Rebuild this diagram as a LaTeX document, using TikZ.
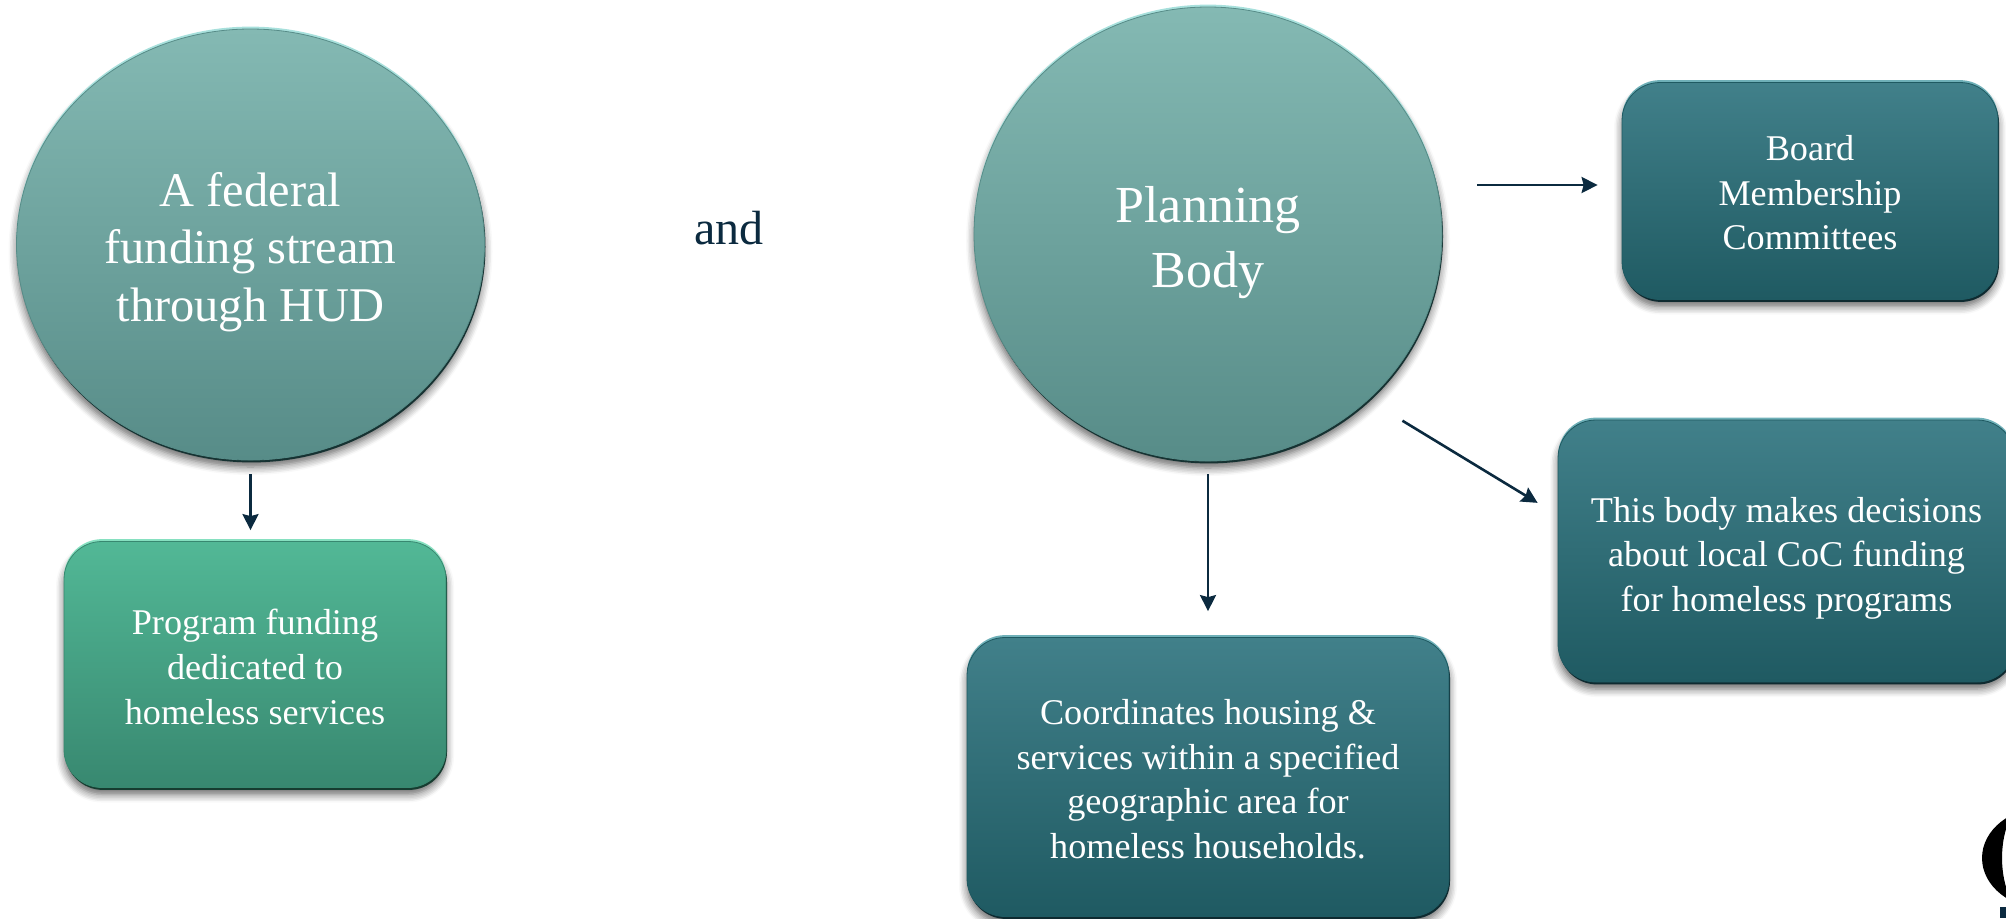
\documentclass[tikz,border=0pt]{standalone}
\usepackage{fontspec}
\setmainfont{Liberation Serif}
\usetikzlibrary{arrows.meta,shapes.geometric,shadows.blur}
\definecolor{navyink}{HTML}{0B2A3F}
\definecolor{discTop}{HTML}{84B9B3}
\definecolor{discBot}{HTML}{578C88}
\definecolor{discRim}{HTML}{A8E0DC}
\definecolor{discLow}{HTML}{163232}
\definecolor{blueTop}{HTML}{41808A}
\definecolor{blueBot}{HTML}{1F5A62}
\definecolor{blueRim}{HTML}{6FB0B8}
\definecolor{blueLow}{HTML}{0E2A30}
\definecolor{greenTop}{HTML}{52B896}
\definecolor{greenBot}{HTML}{388870}
\definecolor{greenRim}{HTML}{86E0C0}
\definecolor{greenLow}{HTML}{163C30}
\tikzset{
  bevel/.style 2 args={
    blur shadow={shadow xshift=0pt,shadow yshift=-3.5pt,shadow blur radius=4pt,shadow opacity=60,shadow blur steps=6},
    preaction={fill=#1,transform canvas={yshift=1.2pt}},
    preaction={fill=#2,transform canvas={xshift=0.5pt,yshift=-1.2pt}}
  },
  lift/.style={execute at begin node={\rule{0pt}{#1}}},
  disc/.style={ellipse,inner sep=0pt,align=center,text=white,draw=discBot,line width=0.4pt,
    bevel={discRim}{discLow},top color=discTop,bottom color=discBot},
  panel/.style={rectangle,rounded corners=19pt,inner sep=0pt,align=center,text=white,line width=0.4pt,
    font=\fontsize{18.1}{22.4}\selectfont},
  bluepanel/.style={panel,draw=blueBot,bevel={blueRim}{blueLow},top color=blueTop,bottom color=blueBot},
  greenpanel/.style={panel,draw=greenBot,bevel={greenRim}{greenLow},top color=greenTop,bottom color=greenBot},
  link/.style={draw=navyink,line width=1.3pt,-{Stealth[length=8pt,width=8pt,inset=1pt]}}
}
\begin{document}
\begin{tikzpicture}[x=0.5pt,y=-0.5pt]
    \useasboundingbox (0,0) rectangle (2006,918);
    % circles
    \node[disc,lift=82pt,minimum width=234pt,minimum height=215.5pt,font=\fontsize{24.2}{28.8}\selectfont] (stream) at (250.5,244.5) {A federal\\funding stream\\through HUD};
    \node[disc,lift=59pt,minimum width=234pt,minimum height=227pt,font=\fontsize{26}{32.6}\selectfont] (planning) at (1208,234) {Planning\\Body};
    \node[text=navyink,font=\fontsize{24}{28.8}\selectfont,inner sep=0pt] (and) at (729,228) {and};
    % boxes
    \node[greenpanel,lift=60pt,minimum width=191pt,minimum height=123pt] (grant) at (255,664.5) {Program funding\\dedicated to\\homeless services};
    \node[bluepanel,lift=59pt,minimum width=188pt,minimum height=108.5pt] (board) at (1810,191) {Board\\Membership\\Committees};
    \node[bluepanel,lift=64.5pt,minimum width=228.5pt,minimum height=131pt] (decide) at (1786.5,551) {This body makes decisions\\about local CoC funding\\for homeless programs};
    \node[bluepanel,lift=82pt,minimum width=241pt,minimum height=139.5pt] (coord) at (1208,777) {Coordinates housing \&\\services within a specified\\geographic area for\\homeless households.};
    % arrows
    \draw[link,shorten <=7pt,shorten >=5.5pt] (stream.south) -- (stream.south |- grant.north);
    \draw[link,shorten <=6.5pt,shorten >=13pt] (planning.south) -- (coord.north);
    \draw[link,shorten <=17.5pt,shorten >=12pt] ([yshift=24.5pt]planning.east) -- ([yshift=3pt]board.west);
    \draw[link,shorten <=20pt,shorten >=11.7pt] (planning.-46) -- ([yshift=18pt]decide.west);
    % cut-off mark at the corner
    \fill[black,even odd rule] (2046,858) ellipse [x radius=64,y radius=51] (2030,858) ellipse [x radius=28,y radius=56];
    \fill[navyink] (2000,907) rectangle (2006,918);
\end{tikzpicture}
\end{document}
